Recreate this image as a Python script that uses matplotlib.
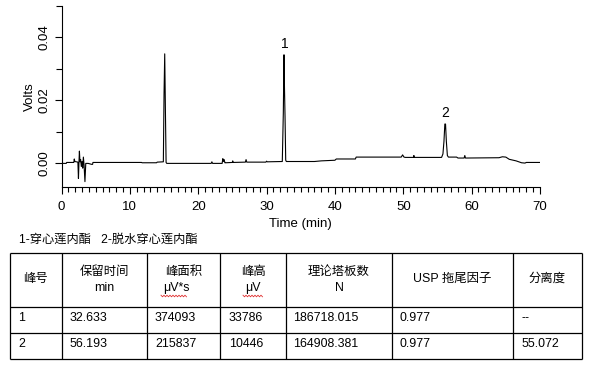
import numpy as np
import matplotlib
matplotlib.use("Agg")
import matplotlib.pyplot as plt
from matplotlib.ticker import MultipleLocator

plt.rcParams['font.family'] = ['Liberation Sans', 'Noto Sans CJK SC', 'DejaVu Sans']

# ---- chromatogram trace (time in min, signal in Volts) ----
time = [0.0, 0.7, 0.75, 1.80, 1.87, 1.95, 2.40, 2.48, 2.55, 2.62, 2.70, 2.80, 2.90,
        3.00, 3.10, 3.20, 3.30, 3.43, 3.55, 3.90, 4.40, 4.55, 4.60, 11.7, 11.8, 12.3,
        13.9, 14.0, 14.9, 15.0, 15.1, 15.2, 15.3, 15.4, 21.9, 22.0, 22.1, 23.5,
        23.6, 23.7, 23.8, 23.9, 24.0, 25.0, 25.05, 25.1, 26.9, 27.0, 27.1,
        29.9, 30.0, 30.1, 32.3, 32.45, 32.55, 32.62, 32.7, 32.8, 32.9, 37.0, 38.0,
        40.0, 40.2, 43.0, 43.1, 49.7, 49.9, 50.1, 50.3, 51.5, 51.55, 51.6, 55.6,
        55.8, 55.95, 56.08, 56.18, 56.3, 56.45, 56.6, 57.8, 58.0, 58.9, 59.0, 59.1,
        64.0, 64.5, 65.0, 65.5, 66.5, 67.3, 67.8, 68.0, 70.0]
volts = [0.0, 0.0, 0.0003, 0.0003, 0.0014, 0.0006, 0.0004, -0.0048, 0.0001, 0.0039,
         0.0005, 0.0012, -0.0010, 0.0006, -0.0015, 0.0020, -0.0005, -0.0058, 0.0000,
         0.0000, -0.0003, -0.0003, 0.0003, 0.0003, 0.0002, 0.0002, 0.0002, 0.0004,
         0.0005, 0.0220, 0.0348, 0.0170, 0.0003, 0.0000, 0.0000, 0.0005, 0.0000,
         0.0000, 0.0015, 0.0006, 0.0012, 0.0002, 0.0002, 0.0003, 0.0008, 0.0003,
         0.0004, 0.0012, 0.0004, 0.0004, 0.0007, 0.0005, 0.0006, 0.0160, 0.0345,
         0.0240, 0.0150, 0.0010, 0.0006, 0.0006, 0.0008, 0.0010, 0.0014, 0.0014,
         0.0020, 0.0020, 0.0027, 0.0020, 0.0019, 0.0019, 0.0025, 0.0019, 0.0019,
         0.0030, 0.0070, 0.0125, 0.0125, 0.0070, 0.0025, 0.0020, 0.0020, 0.0017,
         0.0017, 0.0025, 0.0017, 0.0018, 0.0021, 0.0020, 0.0013, 0.0008, 0.0002,
         0.0001, 0.0003, 0.0003]

peak_labels = ["1", "2"]
peak_times = [32.62, 56.13]
peak_heights = [0.0345, 0.0125]

# ---- legend line and result table ----
compound_note = "1-穿心莲内酯   2-脱水穿心莲内酯"
header = ["峰号", "保留时间\nmin", "峰面积\nμV*s", "峰高\nμV", "理论塔板数\nN", "USP 拖尾因子", "分离度"]
peak_no = ["1", "2"]
ret_time = ["32.633", "56.193"]
area = ["374093", "215837"]
height = ["33786", "10446"]
plates = ["186718.015", "164908.381"]
tailing = ["0.977", "0.977"]
resolution = ["--", "55.072"]

W, H = 591, 368
fig = plt.figure(figsize=(W / 100, H / 100), dpi=100)

ax = fig.add_axes([61.5 / W, 1 - 187 / H, (540 - 61.5) / W, (187 - 6) / H])
ax.plot(time, volts, color='black', lw=0.8)
ax.set_xlim(0, 70)
ax.set_ylim(-0.0075, 0.05)
for s in ['top', 'right']:
    ax.spines[s].set_visible(False)
for s in ['left', 'bottom']:
    ax.spines[s].set_linewidth(0.8)
ax.xaxis.set_major_locator(MultipleLocator(10))
ax.xaxis.set_minor_locator(MultipleLocator(1))
ax.yaxis.set_major_locator(MultipleLocator(0.02))
ax.yaxis.set_minor_locator(MultipleLocator(0.01))
ax.tick_params(which='major', direction='out', length=5, width=0.8, labelsize=9.5, pad=5)
ax.tick_params(which='minor', direction='out', length=3.3, width=0.8)
ax.tick_params(axis='y', which='minor', length=4.3)
ax.yaxis.set_major_formatter(matplotlib.ticker.FormatStrFormatter('%.2f'))
for lab in ax.get_yticklabels():
    lab.set_rotation(90)
    lab.set_va('center')
ax.tick_params(axis='y', pad=3)
ax.set_xlabel("Time (min)", fontsize=9.5, labelpad=4)
ax.set_ylabel("Volts", fontsize=9.5, labelpad=2)
for lbl, t, h in zip(peak_labels, peak_times, peak_heights):
    ax.annotate(lbl, (t, h), xytext=(0, 3), textcoords='offset points',
                ha='center', va='bottom', fontsize=10)

# ---- table drawn in a pixel-unit overlay axes ----
tax = fig.add_axes([0, 0, 1, 1], zorder=-1)
tax.set_xlim(0, W)
tax.set_ylim(H, 0)
tax.axis('off')
tax.patch.set_alpha(0)

tax.text(19, 240, compound_note, fontsize=8.8, va='center', ha='left')

col_edges = [10, 62, 147, 220, 286, 392, 513, 582]
row_edges = [253, 307, 333, 359]
tax.hlines(row_edges, col_edges[0], col_edges[-1], color='black', lw=0.9)
tax.vlines(col_edges, row_edges[0], row_edges[-1], color='black', lw=0.9)

fs = 8.9
for i, htxt in enumerate(header):
    cx = (col_edges[i] + col_edges[i + 1]) / 2
    lines = htxt.split("\n")
    if len(lines) == 1:
        tax.text(cx, 279, lines[0], ha='center', va='center', fontsize=fs)
    else:
        tax.text(cx, 272, lines[0], ha='center', va='center', fontsize=fs)
        tax.text(cx - (7 if i == 2 else 0), 288, lines[1], ha='center', va='center', fontsize=fs)

# red wavy spell-check underlines under the μV units
for x0, x1 in [(161, 187), (243, 263)]:
    xs = np.arange(x0, x1 + 0.1, 1.5)
    ys = 296 + np.where(np.arange(len(xs)) % 2 == 0, -0.8, 0.8)
    tax.plot(xs, ys, color='#e03030', lw=0.6)

cols = [peak_no, ret_time, area, height, plates, tailing, resolution]
row_y = [318, 344]
left_pad = [8, 8, 8, 9, 7, 8, 9]
for ci, col in enumerate(cols):
    for ri, val in enumerate(col):
        tax.text(col_edges[ci] + left_pad[ci], row_y[ri], val, ha='left', va='center', fontsize=fs)

fig.savefig("out.png", dpi=100)
